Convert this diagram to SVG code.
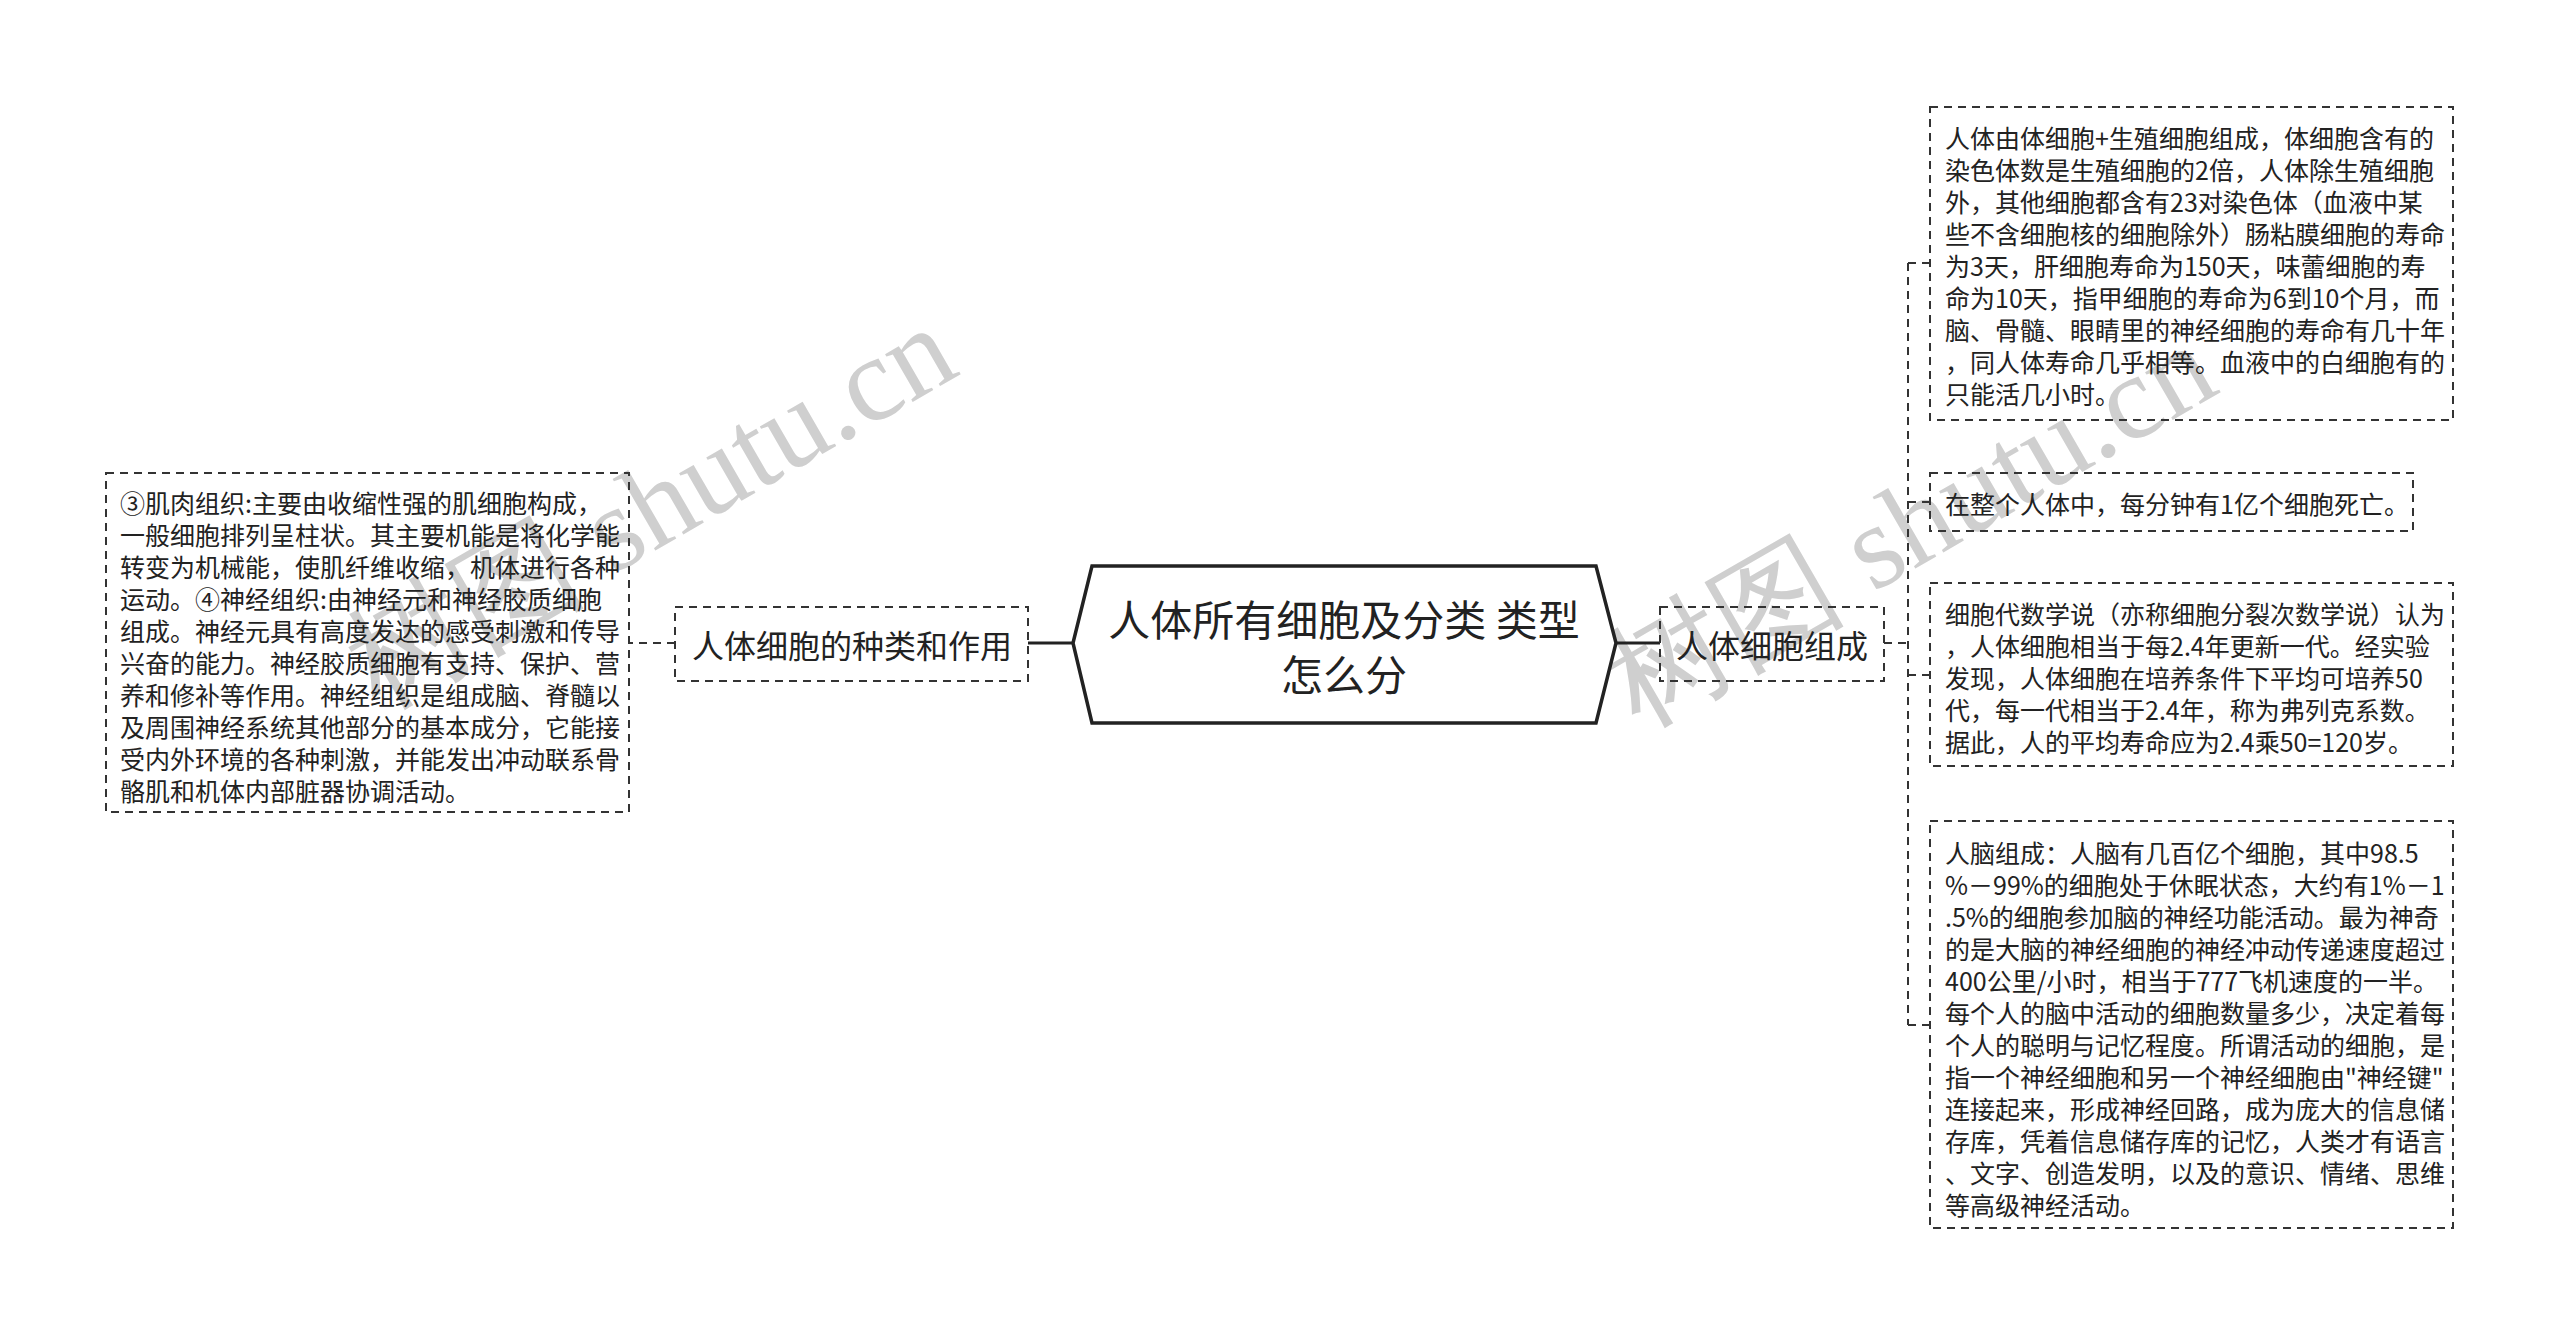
<svg xmlns="http://www.w3.org/2000/svg" width="2560" height="1337" viewBox="0 0 2560 1337">
<style>
.wm{font-family:"Liberation Serif","Noto Serif",serif;font-size:120px;fill:#cfcfcf}
.t{font-family:"Noto Sans CJK SC","Noto Sans",sans-serif;fill:#222}
.root{font-size:42px;text-anchor:middle}
.sub{font-size:32px}
.leaf{font-size:25px}
.box{fill:none;stroke:#333;stroke-width:2;stroke-dasharray:8 6}
.dash{fill:none;stroke:#333;stroke-width:2;stroke-dasharray:8 6}
.solid{fill:none;stroke:#222;stroke-width:3}
</style>
<rect width="2560" height="1337" fill="#fff"/>
<g id="watermarks">
<text class="wm" transform="translate(379,710) rotate(-30)">树图 shutu.cn</text>
<text class="wm" transform="translate(1639,728) rotate(-30)">树图 shutu.cn</text>
</g>
<g id="connectors">
<line class="solid" x1="1073" y1="643" x2="1028" y2="643"/>
<line class="solid" x1="1616" y1="643" x2="1660" y2="643"/>
<line class="dash" x1="675" y1="643" x2="629" y2="643"/>
<path class="dash" d="M1884 643H1908"/>
<path class="dash" d="M1908 263V1025"/>
<path class="dash" d="M1908 263H1930M1908 502H1930M1908 675H1930M1908 1025H1930"/>
</g>
<g id="root">
<polygon points="1092,566 1596,566 1616,643 1596,723 1092,723 1073,643" fill="#fff" stroke="#222" stroke-width="3.5"/>
<text class="t root" x="1344" y="617" dominant-baseline="central">人体所有细胞及分类 类型</text>
<text class="t root" x="1344" y="672" dominant-baseline="central">怎么分</text>
</g>
<g id="node-left">
<rect class="box" x="675" y="607" width="353" height="74"/>
<text class="t sub" x="692" y="644" dominant-baseline="central">人体细胞的种类和作用</text>
</g>
<g id="node-right">
<rect class="box" x="1660" y="607" width="224" height="74"/>
<text class="t sub" x="1676" y="644" dominant-baseline="central">人体细胞组成</text>
</g>
<g id="leaf-left">
<rect class="box" x="106" y="473" width="523" height="339"/>
<g class="t leaf" dominant-baseline="central">
<text x="120" y="502">③肌肉组织:主要由收缩性强的肌细胞构成，</text>
<text x="120" y="534">一般细胞排列呈柱状。其主要机能是将化学能</text>
<text x="120" y="566">转变为机械能，使肌纤维收缩，机体进行各种</text>
<text x="120" y="598">运动。④神经组织:由神经元和神经胶质细胞</text>
<text x="120" y="630">组成。神经元具有高度发达的感受刺激和传导</text>
<text x="120" y="662">兴奋的能力。神经胶质细胞有支持、保护、营</text>
<text x="120" y="694">养和修补等作用。神经组织是组成脑、脊髓以</text>
<text x="120" y="726">及周围神经系统其他部分的基本成分，它能接</text>
<text x="120" y="758">受内外环境的各种刺激，并能发出冲动联系骨</text>
<text x="120" y="790">骼肌和机体内部脏器协调活动。</text>
</g>
</g>
<g id="leaf-r1">
<rect class="box" x="1930" y="107" width="523" height="313"/>
<g class="t leaf" dominant-baseline="central">
<text x="1945" y="137">人体由体细胞+生殖细胞组成，体细胞含有的</text>
<text x="1945" y="169">染色体数是生殖细胞的2倍，人体除生殖细胞</text>
<text x="1945" y="201">外，其他细胞都含有23对染色体（血液中某</text>
<text x="1945" y="233">些不含细胞核的细胞除外）肠粘膜细胞的寿命</text>
<text x="1945" y="265">为3天，肝细胞寿命为150天，味蕾细胞的寿</text>
<text x="1945" y="297">命为10天，指甲细胞的寿命为6到10个月，而</text>
<text x="1945" y="329">脑、骨髓、眼睛里的神经细胞的寿命有几十年</text>
<text x="1945" y="361">，同人体寿命几乎相等。血液中的白细胞有的</text>
<text x="1945" y="393">只能活几小时。</text>
</g>
</g>
<g id="leaf-r2">
<rect class="box" x="1930" y="473" width="483" height="58"/>
<text class="t leaf" x="1945" y="503" dominant-baseline="central">在整个人体中，每分钟有1亿个细胞死亡。</text>
</g>
<g id="leaf-r3">
<rect class="box" x="1930" y="583" width="523" height="183"/>
<g class="t leaf" dominant-baseline="central">
<text x="1945" y="613">细胞代数学说（亦称细胞分裂次数学说）认为</text>
<text x="1945" y="645">，人体细胞相当于每2.4年更新一代。经实验</text>
<text x="1945" y="677">发现，人体细胞在培养条件下平均可培养50</text>
<text x="1945" y="709">代，每一代相当于2.4年，称为弗列克系数。</text>
<text x="1945" y="741">据此，人的平均寿命应为2.4乘50=120岁。</text>
</g>
</g>
<g id="leaf-r4">
<rect class="box" x="1930" y="821" width="523" height="407"/>
<g class="t leaf" dominant-baseline="central">
<text x="1945" y="852">人脑组成：人脑有几百亿个细胞，其中98.5</text>
<text x="1945" y="884">%－99%的细胞处于休眠状态，大约有1%－1</text>
<text x="1945" y="916">.5%的细胞参加脑的神经功能活动。最为神奇</text>
<text x="1945" y="948">的是大脑的神经细胞的神经冲动传递速度超过</text>
<text x="1945" y="980">400公里/小时，相当于777飞机速度的一半。</text>
<text x="1945" y="1012">每个人的脑中活动的细胞数量多少，决定着每</text>
<text x="1945" y="1044">个人的聪明与记忆程度。所谓活动的细胞，是</text>
<text x="1945" y="1076">指一个神经细胞和另一个神经细胞由"神经键"</text>
<text x="1945" y="1108">连接起来，形成神经回路，成为庞大的信息储</text>
<text x="1945" y="1140">存库，凭着信息储存库的记忆，人类才有语言</text>
<text x="1945" y="1172">、文字、创造发明，以及的意识、情绪、思维</text>
<text x="1945" y="1204">等高级神经活动。</text>
</g>
</g>
</svg>
